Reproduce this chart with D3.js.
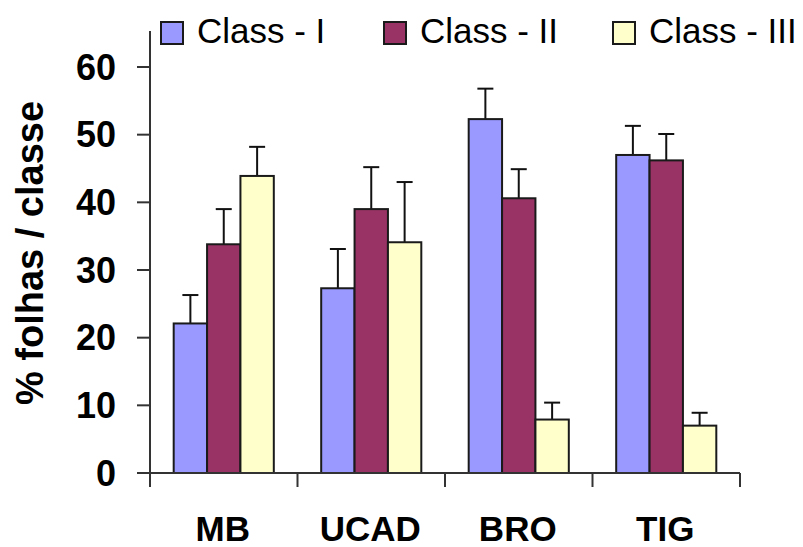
<!DOCTYPE html>
<html>
<head>
<meta charset="utf-8">
<script src="https://cdn.jsdelivr.net/npm/d3@7"></script>
<style>
  html, body { margin: 0; padding: 0; background: #fff; }
  svg { display: block; font-family: "Liberation Sans", Arial, sans-serif; }
</style>
</head>
<body>
<svg id="chart" width="803" height="547"></svg>
<script>
const categories = ["MB", "UCAD", "BRO", "TIG"];
const classes = ["Class - I", "Class - II", "Class - III"];
const classI   = [22.1, 27.3, 52.3, 47.0];
const classII  = [33.8, 39.0, 40.6, 46.2];
const classIII = [43.9, 34.1, 7.9, 7.0];
const errI   = [4.2, 5.8, 4.5, 4.3];
const errII  = [5.2, 6.2, 4.3, 3.9];
const errIII = [4.3, 8.9, 2.5, 1.9];
const yTicks = [0, 10, 20, 30, 40, 50, 60];
const colors = ["#9999FF", "#993366", "#FFFFCC"];

const seriesVals = [classI, classII, classIII];
const seriesErr = [errI, errII, errIII];

const svg = d3.select("#chart");

const x = d3.scaleBand().domain(categories).range([150, 740]).padding(0);
const x1 = d3.scaleBand().domain(classes)
  .range([0, x.bandwidth()]).paddingInner(0).paddingOuter(0.71);
const y = d3.scaleLinear().domain([0, 60]).range([473, 67]);

const axisColor = "#333";

const data = [];
categories.forEach((c, i) => {
  classes.forEach((k, j) => {
    data.push({ cat: c, cls: k, j, v: seriesVals[j][i], e: seriesErr[j][i] });
  });
});

// Error bars
const eg = svg.append("g").attr("stroke", "#111").attr("stroke-width", 2).attr("fill", "none");
data.forEach(d => {
  const cx = x(d.cat) + x1(d.cls) + x1.bandwidth() / 2;
  eg.append("line").attr("x1", cx).attr("x2", cx).attr("y1", y(d.v)).attr("y2", y(d.v + d.e));
  eg.append("line").attr("x1", cx - 8).attr("x2", cx + 8).attr("y1", y(d.v + d.e)).attr("y2", y(d.v + d.e));
});

// Bars
svg.append("g").selectAll("rect").data(data).join("rect")
  .attr("x", d => x(d.cat) + x1(d.cls))
  .attr("y", d => y(d.v))
  .attr("width", x1.bandwidth())
  .attr("height", d => y(0) - y(d.v))
  .attr("fill", d => colors[d.j])
  .attr("stroke", "#1a1a1a")
  .attr("stroke-width", 2);

// Y axis
const yAxis = svg.append("g");
yAxis.append("line").attr("x1", 150).attr("x2", 150).attr("y1", 31).attr("y2", y(0) + 14)
  .attr("stroke", axisColor).attr("stroke-width", 2);
yAxis.selectAll("line.tick").data(yTicks).join("line").attr("class", "tick")
  .attr("x1", 137).attr("x2", 150).attr("y1", d => y(d)).attr("y2", d => y(d))
  .attr("stroke", axisColor).attr("stroke-width", 2);
yAxis.selectAll("text").data(yTicks).join("text")
  .attr("x", 116).attr("y", d => y(d) + 12.5)
  .attr("text-anchor", "end")
  .attr("font-size", 36).attr("font-weight", "bold").attr("fill", "#000")
  .text(d => d);

// X axis
const xAxis = svg.append("g");
xAxis.append("line").attr("x1", 150).attr("x2", 740).attr("y1", y(0)).attr("y2", y(0))
  .attr("stroke", axisColor).attr("stroke-width", 2);
const bounds = categories.map(c => x(c)).concat([x.range()[1]]);
xAxis.selectAll("line.tick").data(bounds).join("line").attr("class", "tick")
  .attr("x1", d => d).attr("x2", d => d).attr("y1", y(0)).attr("y2", y(0) + 14)
  .attr("stroke", axisColor).attr("stroke-width", 2);
xAxis.selectAll("text").data(categories).join("text")
  .attr("x", d => x(d) + x.bandwidth() / 2 - 1).attr("y", 541)
  .attr("text-anchor", "middle")
  .attr("font-size", 35).attr("font-weight", "bold").attr("fill", "#000")
  .text(d => d);

// Y title
svg.append("text")
  .attr("transform", "translate(43,253) rotate(-90)")
  .attr("text-anchor", "middle")
  .attr("font-size", 38).attr("font-weight", "bold").attr("fill", "#000")
  .text("% folhas / classe");

// Legend
const legendX = [161, 384, 613];
const lg = svg.append("g");
classes.forEach((k, j) => {
  lg.append("rect").attr("x", legendX[j]).attr("y", 22).attr("width", 22).attr("height", 22)
    .attr("fill", colors[j]).attr("stroke", "#1a1a1a").attr("stroke-width", 2);
  lg.append("text").attr("x", legendX[j] + 36).attr("y", 43)
    .attr("font-size", 35).attr("fill", "#000").text(k);
});
</script>
</body>
</html>
